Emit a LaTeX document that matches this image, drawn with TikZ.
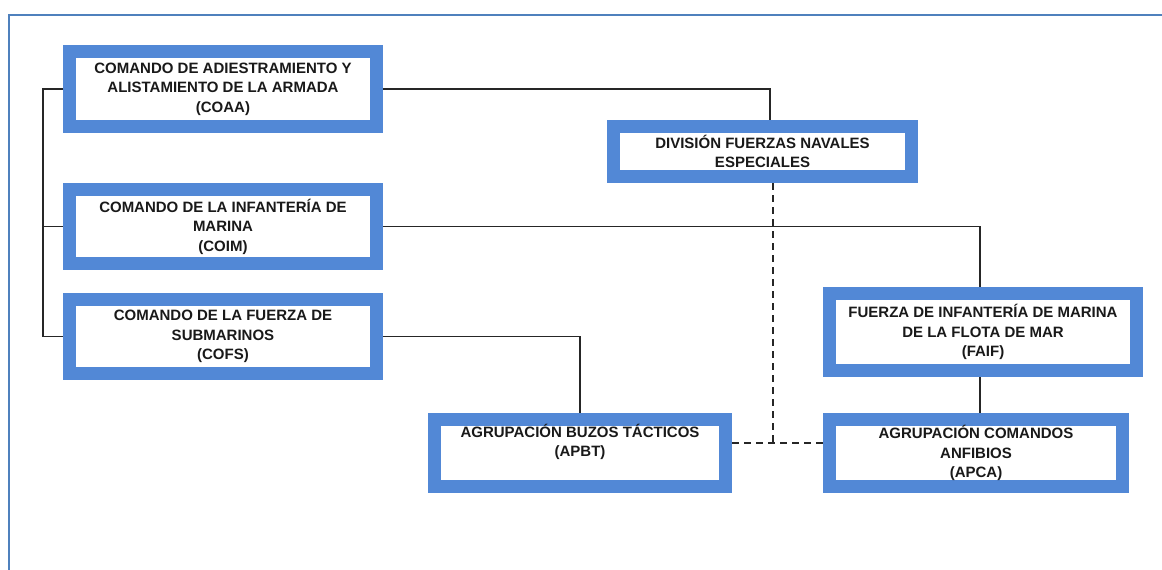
\documentclass[tikz,border=0pt]{standalone}
\usepackage{fontspec}
\setmainfont{Liberation Sans}
\usetikzlibrary{calc}
\definecolor{boxblue}{RGB}{82,136,214}
\definecolor{frameblue}{RGB}{79,129,189}
\begin{document}
\begin{tikzpicture}[x=1pt,y=-1pt,
  orgbox/.style={draw=boxblue, line width=13pt, fill=white, inner sep=0pt,
    align=center, font=\bfseries\fontsize{15}{19.5}\selectfont, text=black!90},
  link/.style={draw=black!85, line width=1.4pt},
  dlink/.style={link, dash pattern=on 7pt off 5pt}]
\useasboundingbox (0,0) rectangle (1162,570);
% frame
\draw[frameblue, line width=2.5pt] (9,570) -- (9,15) -- (1162,15);
% boxes
\node[orgbox, minimum width=307, minimum height=75] (coaa) at (223,89)
  {COMANDO DE ADIESTRAMIENTO Y\\ALISTAMIENTO DE LA ARMADA\\(COAA)};
\node[orgbox, minimum width=307, minimum height=74] (coim) at (223,226.5)
  {COMANDO DE LA INFANTERÍA DE\\MARINA\\(COIM)};
\node[orgbox, minimum width=307, minimum height=74] (cofs) at (223,336.5)
  {COMANDO DE LA FUERZA DE\\SUBMARINOS\\(COFS)};
\node[orgbox, minimum width=298, minimum height=50] (dfne) at (762.5,151.5)
  {DIVISIÓN FUERZAS NAVALES\\ESPECIALES};
\node[orgbox, minimum width=307, minimum height=77] (faif) at (983,332)
  {FUERZA DE INFANTERÍA DE MARINA\\DE LA FLOTA DE MAR\\(FAIF)};
\node[orgbox, minimum width=291, minimum height=67] (apbt) at (580,453)
  {AGRUPACIÓN BUZOS TÁCTICOS\\(APBT)\\\strut};
\node[orgbox, minimum width=293, minimum height=67] (apca) at (976,453)
  {AGRUPACIÓN COMANDOS\\ANFIBIOS\\(APCA)};
% helper coordinates
\coordinate (lb) at (43,0);
\coordinate (j1) at (770,0);
\coordinate (j2) at (980,0);
\coordinate (dj) at (773,443);
% connectors
\draw[link] (coaa.west) -- (coaa.west -| lb) -- (cofs.west -| lb) -- (cofs.west);
\draw[link] (coim.west -| lb) -- (coim.west);
\draw[link] (coaa.east) -| (j1 |- dfne.north);
\draw[link] (coim.east) -| (j2 |- faif.north);
\draw[link] (cofs.east) -| (apbt.north);
\draw[link] (j2 |- faif.south) -- (j2 |- apca.north);
\draw[dlink] (dj |- dfne.south) -- (dj);
\draw[dlink] (apbt.east |- dj) -- (apca.west |- dj);
\end{tikzpicture}
\end{document}
